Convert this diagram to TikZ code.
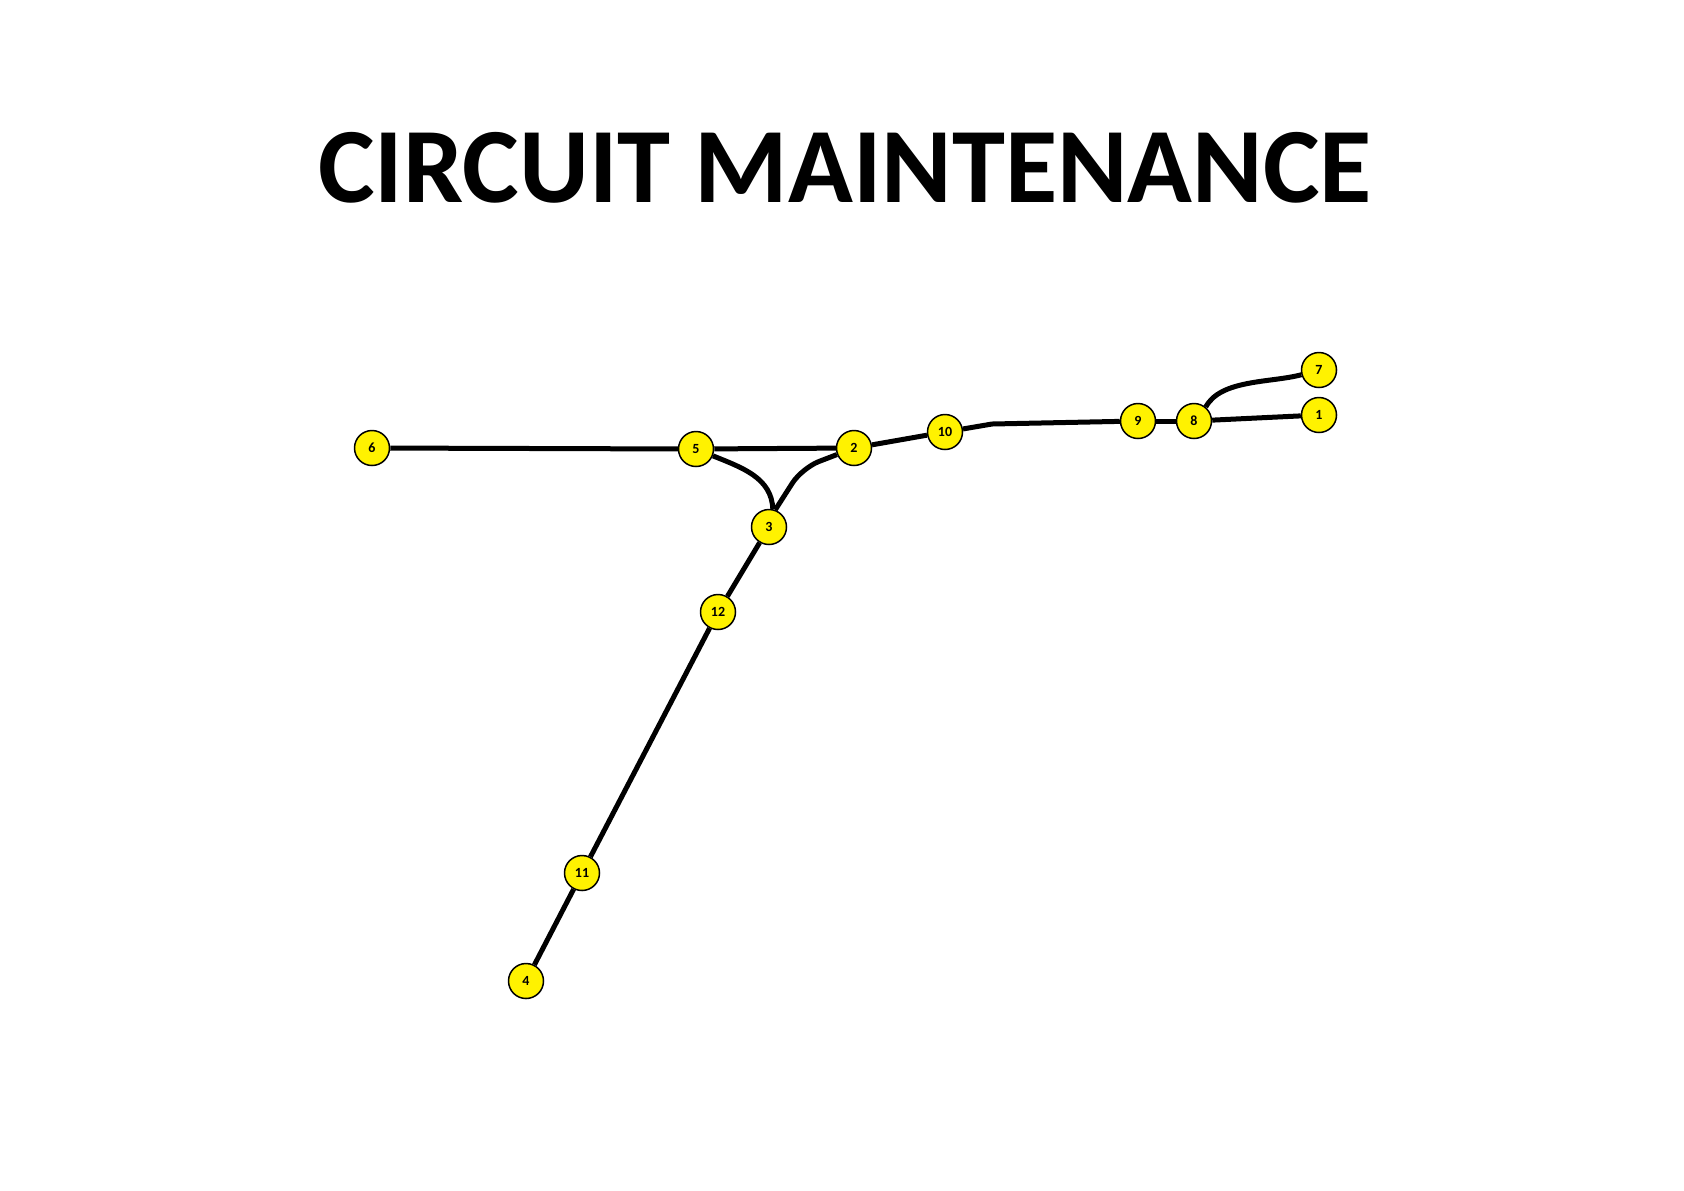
\documentclass[tikz,border=0pt]{standalone}
\usepackage{fontspec}
\setmainfont{Carlito}
\tikzset{station/.style={circle,draw,line width=.75pt,fill=yellow,
    minimum size=17.5pt,inner sep=0pt,font=\bfseries\fontsize{7}{8}\selectfont},
  wire/.style={line width=2.5pt}}

\begin{document}
\begin{tikzpicture}[x=.5pt,y=-.5pt]
  \useasboundingbox (0,0) rectangle (1684,1190);
  \node (title) at (845,168) {\bfseries\fontsize{53.5}{60}\selectfont CIRCUIT MAINTENANCE};
  \foreach \n/\x/\y in {1/1319/415,2/854/448,3/769/527,4/526/981,%
          5/696/449,6/372/448,7/1319/370,8/1194/421,%
          9/1138/421,10/945/432,11/582/873,12/718/612}
  {\node[station] (n\n) at (\x,\y) {\n};}
  \coordinate (kink) at (992,424);
  \coordinate (bend) at (802,468);
  \foreach \a/\b in {6/5,5/2,2/10,9/8,8/1,3/12,12/11,11/4}
  {\draw[wire] (n\a) -- (n\b);}
  \draw[wire] (n10) -- (kink) -- (n9);
  \draw[wire,rounded corners=9pt] (n3.70) -- (bend) -- (n2);
  \draw[wire] (n5) to[out=-22,in=92] (n3.78);
  \draw[wire] (n8.50) to[out=62,in=195,looseness=.8] (n7);
\end{tikzpicture}
\end{document}
